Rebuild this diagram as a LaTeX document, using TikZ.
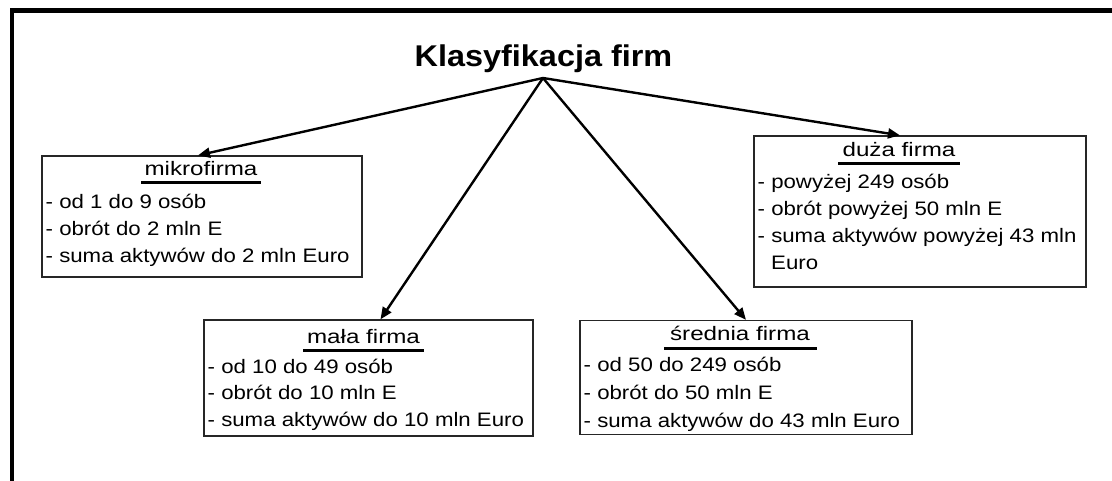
\documentclass[tikz,border=0pt]{standalone}
\usepackage{fontspec}
\setmainfont{Liberation Sans}
\newfontfamily\boxfont[FakeStretch=1.14]{Liberation Sans}
\newfontfamily\boxtitlefont[FakeStretch=1.24]{Liberation Sans}
\newfontfamily\headfont[FakeStretch=1.08]{Liberation Sans}
\usetikzlibrary{arrows.meta}
\begin{document}
\begin{tikzpicture}[x=1pt,y=-1pt,
  frame/.style={line width=4.5pt,line join=miter},
  box/.style={draw=black!85,line width=1.3pt,inner sep=0pt},
  ttl/.style={anchor=base,inner sep=0pt,font=\boxtitlefont\fontsize{19.5}{22}\selectfont},
  txt/.style={anchor=base west,inner sep=0pt,font=\boxfont\fontsize{19.5}{22}\selectfont},
  uline/.style={line width=3pt},
  arr/.style={line width=2.4pt,-{Triangle[length=12pt,width=10pt]}},
  head/.style={anchor=base,inner sep=0pt,font=\headfont\bfseries\fontsize{30}{34}\selectfont}]
\useasboundingbox (0,0) rectangle (1112,481);
\draw[frame] (12,481) -- (12,10.5) -- (1112,10.5);

\node[head] (title) at (543.5,67) {Klasyfikacja firm};
\coordinate (apex) at (543,78);

% boxes
\node[box,minimum width=320pt,minimum height=121pt] (mikro) at (202,216.5) {};
\node[box,minimum width=329pt,minimum height=116pt] (mala) at (368.5,378) {};
\node[box,minimum width=332pt,minimum height=114pt] (sred) at (746,377.5) {};
\node[box,minimum width=332pt,minimum height=151pt] (duza) at (920,211.5) {};

% arrows
\draw[arr] (apex) -- ([xshift=-4pt]mikro.north);
\draw[arr] (apex) -- ([xshift=12pt]mala.north);
\draw[arr] (apex) -- (sred.north);
\draw[arr] (apex) -- ([xshift=-20pt]duza.north);

% mikrofirma
\node[ttl] (mikroT) at (201,176) {mikrofirma};
\draw[uline] (141,183) -- (261,183);
\node[txt] (m1) at (45.5,209) {- od 1 do 9 osób};
\node[txt] (m2) at (45.5,236) {- obrót do 2 mln E};
\node[txt] (m3) at (45.5,263) {- suma aktywów do 2 mln Euro};

% mala firma
\node[ttl] (malaT) at (363.5,343) {mała firma};
\draw[uline] (303,350) -- (424,350);
\node[txt] (a1) at (207.5,373) {- od 10 do 49 osób};
\node[txt] (a2) at (207.5,399.5) {- obrót do 10 mln E};
\node[txt] (a3) at (207.5,426) {- suma aktywów do 10 mln Euro};

% srednia firma
\node[ttl] (sredT) at (740,341) {średnia firma};
\draw[uline] (664,348) -- (817,348);
\node[txt] (s1) at (583.5,371) {- od 50 do 249 osób};
\node[txt] (s2) at (583.5,399) {- obrót do 50 mln E};
\node[txt] (s3) at (583.5,427) {- suma aktywów do 43 mln Euro};

% duza firma
\node[ttl] (duzaT) at (899,157) {duża firma};
\draw[uline] (838,164) -- (960,164);
\node[txt] (d1) at (757.5,189) {- powyżej 249 osób};
\node[txt] (d2) at (757.5,216) {- obrót powyżej 50 mln E};
\node[txt] (d3) at (757.5,243) {- suma aktywów powyżej 43 mln};
\node[txt] (d4) at (771,269.5) {Euro};
\end{tikzpicture}
\end{document}
